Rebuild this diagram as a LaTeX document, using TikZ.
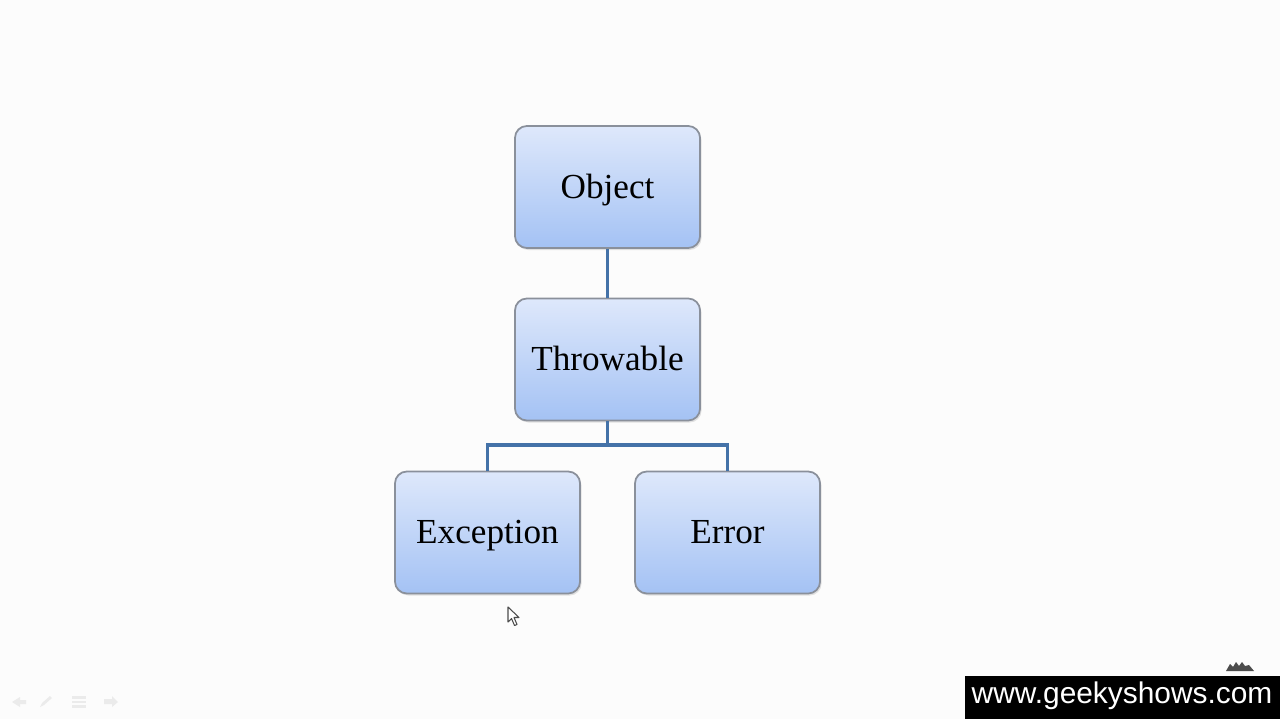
\documentclass[tikz,border=0pt]{standalone}
\usepackage{fontspec}
\setmainfont{Liberation Serif}
\newfontfamily\wmfont{Liberation Sans}
\usetikzlibrary{shadows}
\definecolor{pagebg}{RGB}{252,252,252}
\definecolor{boxtop}{RGB}{222,232,251}
\definecolor{boxbot}{RGB}{164,194,244}
\definecolor{boxedge}{RGB}{138,144,155}
\definecolor{linkblue}{RGB}{68,114,168}
\tikzset{
  classbox/.style={draw=boxedge, line width=0.5pt, rounded corners=0.12cm,
    minimum width=1.85cm, minimum height=1.22cm, inner sep=0pt,
    text height=8.5pt, text depth=2.2pt,
    top color=boxtop, bottom color=boxbot,
    drop shadow={opacity=0.22, shadow xshift=0.015cm, shadow yshift=-0.02cm},
    font=\fontsize{10}{12}\selectfont},
  link/.style={draw=linkblue, line width=1pt},
  pointer/.style={fill=white, draw=black!70, line width=0.3pt, line join=round},
  navicon/.style={fill=black!8, draw=none}
}
\begin{document}
\begin{tikzpicture}[x=0.01cm, y=-0.01cm]
  % page
  \fill[pagebg] (0,0) rectangle (1280,719);
  \useasboundingbox (0,0) rectangle (1280,719);

  % class hierarchy
  \node[classbox] (obj) at (607.5,187) {Object};
  \node[classbox] (thr) at (607.5,359.5) {Throwable};
  \node[classbox] (exc) at (487.5,532.5) {Exception};
  \node[classbox] (err) at (727.5,532.5) {Error};
  \coordinate (bus) at (607.5,445);

  \draw[link] (obj.south) -- (thr.north);
  \draw[link] (thr.south) -- (bus);
  \draw[link] (exc.north) |- (bus) -| (err.north);

  % mouse pointer
  \draw[pointer] (508,607) -- (508,622) -- (511.5,618.5) -- (514.5,625.5)
    -- (517,624.5) -- (514,617.5) -- (519,617.5) -- cycle;

  % faint slide navigation icons
  \fill[navicon] (12,702) -- (20,697) -- (20,700) -- (26,700) -- (26,704) -- (20,704) -- (20,707) -- cycle;
  \fill[navicon] (40,707) -- (42,703) -- (50,696) -- (52,698) -- (44,705) -- cycle;
  \fill[navicon] (72,696) rectangle (86,698.5);
  \fill[navicon] (72,700.5) rectangle (86,703);
  \fill[navicon] (72,705) rectangle (86,707.5);
  \fill[navicon] (104,699) -- (112,699) -- (112,696) -- (118,702) -- (112,707) -- (112,704) -- (104,704) -- cycle;

  % watermark
  \fill[black!70] (1226,671) -- (1230,664) -- (1233,667) -- (1236,662) -- (1239,666) -- (1242,662)
    -- (1245,666) -- (1249,665) -- (1254,671) -- cycle;
  \fill[black] (965,676) rectangle (1280,719);
  \node[text=white, font=\wmfont\fontsize{8.5}{10}\selectfont, inner sep=0pt, anchor=west]
    (wm) at (971,696) {www.geekyshows.com};
\end{tikzpicture}
\end{document}
